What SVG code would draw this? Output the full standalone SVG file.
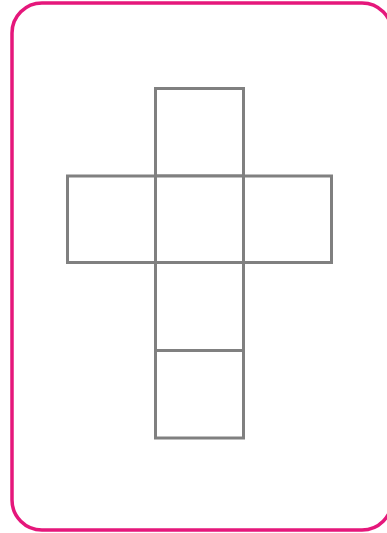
<svg xmlns="http://www.w3.org/2000/svg" width="387" height="533" viewBox="0 0 387 533">
<style>
.card{fill:#fff;stroke:#e5177b;stroke-width:3.5}
.face{fill:#fff;stroke:#808080;stroke-width:3}
</style>
<rect width="387" height="533" fill="#fff"/>
<rect class="card" x="12" y="3" width="380" height="527" rx="30" ry="30"/>
<g id="top"><rect class="face" x="155.5" y="88.5" width="88" height="87.5"/></g>
<g id="left"><rect class="face" x="67.5" y="176" width="88" height="86.5"/></g>
<g id="right"><rect class="face" x="243.5" y="176" width="88" height="86.5"/></g>
<g id="center"><rect class="face" x="155.5" y="176" width="88" height="86.5"/></g>
<g id="lower"><rect class="face" x="155.5" y="262.5" width="88" height="88"/></g>
<g id="bottom"><rect class="face" x="155.5" y="350.5" width="88" height="87.5"/></g>
<g id="connectors"></g>
</svg>
